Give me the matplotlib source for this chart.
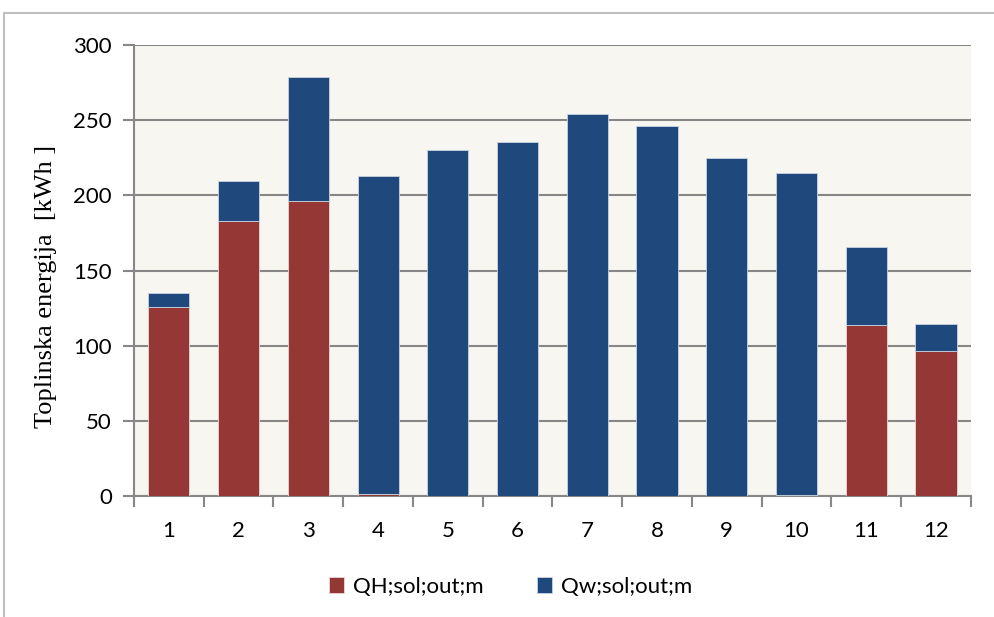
import numpy as np
import matplotlib.pyplot as plt
from matplotlib.lines import Line2D

# --- Data ---
months = ['1', '2', '3', '4', '5', '6', '7', '8', '9', '10', '11', '12']
total = [135, 209.5, 278.5, 213, 230, 235.5, 254, 246, 225, 215, 165.5, 114.5]
q_heat = [126, 183, 196, 1.5, 0, 0, 0, 0, 0, 1, 114, 96.5]
q_water = [t - h for t, h in zip(total, q_heat)]

RED = '#953735'
BLUE = '#1F497D'
GRID = '#878787'

plt.rcParams['font.family'] = ['Lato', 'DejaVu Sans']

fig = plt.figure(figsize=(9.95, 6.17), dpi=100)
ax = fig.add_axes([0.1347, 0.196, 0.841, 0.731])
ax.set_facecolor('#F7F6F1')

x = np.arange(len(months))
ax.bar(x, q_heat, width=0.59, color=RED, edgecolor='#E6D8D6', linewidth=0.6,
       label='QH;sol;out;m', zorder=3)
ax.bar(x, q_water, bottom=q_heat, width=0.59, color=BLUE, edgecolor='#C9D3E0',
       linewidth=0.6, label='Qw;sol;out;m', zorder=3)

ax.set_xlim(-0.5, len(months) - 0.5)
ax.set_ylim(0, 300)
ax.set_yticks(np.arange(0, 301, 50))
ax.yaxis.grid(True, color=GRID, linewidth=1.5, zorder=1)
ax.set_axisbelow(True)

ax.set_xticks(x)
ax.set_xticklabels(months)
ax.set_xticks(np.arange(-0.5, len(months), 1), minor=True)
ax.tick_params(axis='x', which='major', length=0, pad=18, labelsize=16)
ax.tick_params(axis='x', which='minor', length=8, width=1.5, color=GRID, direction='out')
ax.tick_params(axis='y', length=8, width=1.5, color=GRID, direction='out', pad=8, labelsize=16)

for s in ['top', 'right']:
    ax.spines[s].set_visible(False)
for s in ['left', 'bottom']:
    ax.spines[s].set_color(GRID)
    ax.spines[s].set_linewidth(1.5)

ax.set_ylabel('Toplinska energija  [kWh ]', family=['Liberation Serif'], fontsize=19)
ax.yaxis.set_label_coords(-0.092, 0.465)

ax.legend(loc='upper center', bbox_to_anchor=(0.45, -0.135), ncol=2, frameon=False,
          fontsize=16, handlelength=0.7, handleheight=0.7, columnspacing=2.4, handletextpad=0.4)

# outer chart border
fig.add_artist(Line2D([4 / 995, 1], [1 - 13 / 617] * 2, color='#BFBFBF', linewidth=1.5))
fig.add_artist(Line2D([4 / 995] * 2, [0, 1 - 13 / 617], color='#BFBFBF', linewidth=1.5))

fig.savefig('out.png', dpi=100)
